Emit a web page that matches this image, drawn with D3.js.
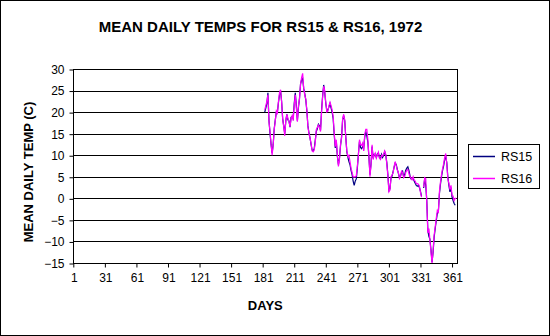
<!DOCTYPE html>
<html><head><meta charset="utf-8">
<script src="https://cdn.jsdelivr.net/npm/d3@7"></script>
<style>
html,body{margin:0;padding:0;background:#fff;}
svg{display:block;font-family:"Liberation Sans",Arial,sans-serif;}
</style></head>
<body>
<script>
const title = "MEAN DAILY TEMPS FOR RS15 & RS16, 1972";
const yTitle = "MEAN DAILY TEMP (C)";
const xTitle = "DAYS";
const seriesNames = ["RS15", "RS16"];
const xTickDays = [1, 31, 61, 91, 121, 151, 181, 211, 241, 271, 301, 331, 361];
const yTickValues = [-15, -10, -5, 0, 5, 10, 15, 20, 25, 30];
const firstDay = 183;

// RS15 mean daily temperature, day 183 onward
const rs15 = [
20,21,22,24.5,18,15,12.5,10.5,12.5,16.2,18.2,20,20,22.2,24,25,22.5,18.5,16.8,15,
18,19.5,18.2,18,16.5,18.8,19,18.5,22,24.5,21.5,18,21,23.2,26.5,27.5,27.8,25.5,24.3,22.8,
20.3,16.8,15.2,14,12.5,11.2,11,11.5,13.5,15.5,16.2,17.2,16.8,15.8,20.5,23.8,26.3,24.5,22,20.3,
20.5,21.2,22,21,20,18.5,14.8,11.7,13.2,9.7,7.8,9.3,12.2,14.3,18.2,19.2,18,14.2,10.8,9.5,
8.5,7.8,6.5,5.5,4,3,4,4.5,7,10.3,13.2,11.8,11.5,12,11.5,14.2,15.5,14.5,13,9.5,
5.5,8,12,9.3,10.2,10.2,9.5,10.3,10.5,9.5,9.2,10.2,9.5,10,10.8,10,8.3,5.5,1.8,2.2,
4.8,5.2,6.2,7.3,8.2,7.8,6.7,5.8,4.8,5.2,6,6.3,5,5.5,6.5,7,7.3,6.5,5.3,4.5,
4.5,4.6,4,3.5,3,2.8,3,2.5,1.6,0.5,null,2.4,4.6,3,-0.5,-7.5,-8.8,-9.5,-12,-14.8,
-12.5,-9,-7,-5.2,-3.5,-3,1,3.3,5,6.5,7.5,9,9.8,8.3,5,3,1.5,2.5,0.3,-0.5,
-1.2,-1.6
];
// RS16 mean daily temperature, day 183 onward
const rs16 = [
20.5,21.5,22.5,24,17.8,15.5,12.5,10,12.5,16,18,20.3,19.8,22.5,24.5,25.2,22.4,18.5,16.6,14.5,
18.2,19.5,18.5,17.8,16.6,18.5,19.2,18,21.6,24,21,17.8,21.5,23,26.5,28,29,25.5,24,23,
20.5,16.6,15,14,12.7,11,10.8,11.2,13,16,16.5,17,16.5,15.5,20,23.5,26,25,22.3,20,
20.2,21.5,22.3,21.5,20.5,19,15.2,12,13.6,10,7.4,9,12.5,14,18.5,19.5,18.2,14,11,9.7,
10,8.5,7,6,5,5,5,5.2,7.5,10,13.6,12.5,12.3,12.8,11,14.8,16,16,13.6,9.7,
5,7.8,12.4,9,10,10.5,9.3,10,10.7,9.3,9,10,9.8,10.3,11,10.2,8,5.2,1.5,1.9,
5,5.4,6,7.5,8.5,7.5,6.5,6,4.6,5,6.3,6,4.8,5,6,6.5,6.7,5.8,5,4.8,
4.3,5,4.2,4,3.4,3.4,3.3,2.8,1.4,0.3,null,2.6,4.8,4.6,-1,-8,-7,-9.7,-12.5,-15,
-12,-8.5,-6.6,-4.7,-2.8,-3.2,1.5,3.8,5.5,6.9,8,9.5,10.4,8,4.5,3.5,2,3,0.7,0.5,
-0.5,0,0
];
const colors = ["#000080", "#ff00ff"];

const W = 550, H = 336;
const plot = {left: 73.3, right: 457.3, top: 69, bottom: 263};

const svg = d3.select("body").append("svg").attr("width", W).attr("height", H);
svg.append("rect").attr("x", 0.5).attr("y", 0.5).attr("width", W - 1).attr("height", H - 1)
  .attr("fill", "#fff").attr("stroke", "#000");

const x = d3.scaleLinear().domain([1, 366]).range([plot.left, plot.right]);
const y = d3.scaleLinear().domain([-15, 30]).range([plot.bottom, plot.top]);

// gridlines
svg.append("g").selectAll("line").data(yTickValues).join("line")
  .attr("x1", plot.left).attr("x2", plot.right)
  .attr("y1", d => Math.round(y(d)) + 0.5).attr("y2", d => Math.round(y(d)) + 0.5)
  .attr("stroke", "#000").attr("stroke-width", 1);

// plot border
svg.append("rect").attr("x", Math.round(plot.left) + 0.5).attr("y", Math.round(plot.top) + 0.5)
  .attr("width", Math.round(plot.right) - Math.round(plot.left))
  .attr("height", Math.round(plot.bottom) - Math.round(plot.top))
  .attr("fill", "none").attr("stroke", "#000");

// y axis
const yAxis = d3.axisLeft(y).tickValues(yTickValues).tickSize(4).tickPadding(5).tickFormat(d3.format("d"));
const gy = svg.append("g").attr("transform", `translate(${Math.round(plot.left) + 0.5},0.5)`).call(yAxis);
gy.select(".domain").remove();
gy.selectAll("text").attr("font-size", 12).attr("font-family", "'Liberation Sans',Arial,sans-serif").attr("fill", "#000");

// x axis
const xAxis = d3.axisBottom(x).tickValues(xTickDays).tickSize(4).tickPadding(6).tickFormat(d3.format("d"));
const gx = svg.append("g").attr("transform", `translate(0.5,${Math.round(plot.bottom) + 0.5})`).call(xAxis);
gx.select(".domain").remove();
gx.selectAll("line").attr("transform", "translate(-0.5,0)");
gx.selectAll("text").attr("font-size", 12).attr("font-family", "'Liberation Sans',Arial,sans-serif").attr("fill", "#000");

// series
const days = d3.range(firstDay, firstDay + Math.max(rs15.length, rs16.length));
const line = d3.line().defined(d => d[1] != null).x(d => x(d[0])).y(d => y(d[1]));
[rs15, rs16].forEach((s, i) => {
  svg.append("path").datum(s.map((v, k) => [days[k], v]))
    .attr("d", line).attr("fill", "none").attr("stroke", colors[i]).attr("stroke-width", 1.2);
});

// titles
svg.append("text").attr("x", 260.5).attr("y", 31.5).attr("text-anchor", "middle")
  .attr("font-size", 15).attr("font-weight", "bold").text(title);
svg.append("text").attr("x", (plot.left + plot.right) / 2).attr("y", 310).attr("text-anchor", "middle")
  .attr("font-size", 13).attr("font-weight", "bold").text(xTitle);
svg.append("text").attr("transform", "translate(33,172) rotate(-90)").attr("text-anchor", "middle")
  .attr("font-size", 13).attr("font-weight", "bold").text(yTitle);

// legend
const lg = svg.append("g");
lg.append("rect").attr("x", 468.5).attr("y", 144.5).attr("width", 71).attr("height", 44)
  .attr("fill", "#fff").attr("stroke", "#000");
seriesNames.forEach((n, i) => {
  const ly = 156.5 + i * 22;
  lg.append("line").attr("x1", 473).attr("x2", 495).attr("y1", ly).attr("y2", ly)
    .attr("stroke", colors[i]).attr("stroke-width", 1.5);
  lg.append("text").attr("x", 501).attr("y", ly + 4.5).attr("font-size", 12.5).text(n);
});
</script>
</body></html>
